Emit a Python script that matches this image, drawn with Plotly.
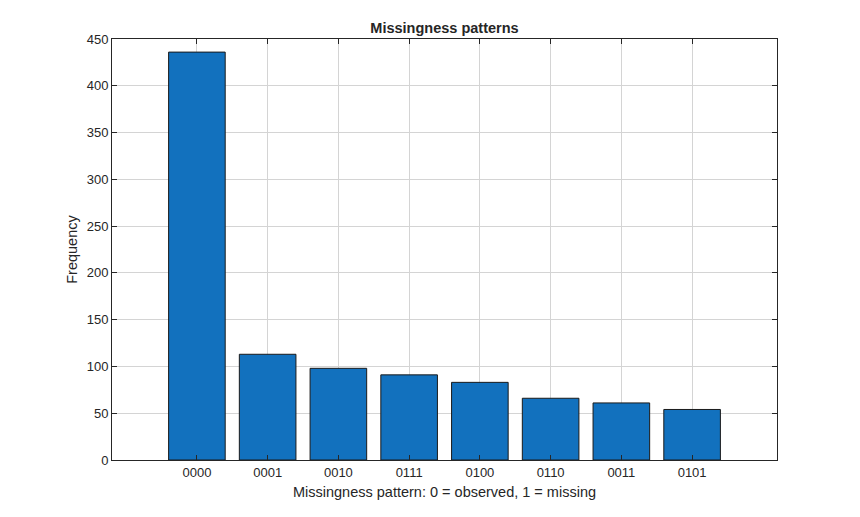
import plotly.graph_objects as go

# patterns and their counts
patterns = ["0000", "0001", "0010", "0111", "0100", "0110", "0011", "0101"]
counts = [436, 113, 98, 91, 83, 66, 61, 54]
y_ticks = [0, 50, 100, 150, 200, 250, 300, 350, 400, 450]

fig = go.Figure(
    go.Bar(
        x=patterns,
        y=counts,
        width=0.8,
        marker=dict(color="#1271BE", line=dict(color="#1a1a1a", width=1)),
    )
)

axis_common = dict(
    showline=True,
    linecolor="#262626",
    linewidth=1,
    mirror="ticks",
    ticks="inside",
    ticklen=5,
    tickcolor="#262626",
    showgrid=True,
    gridcolor="#d4d4d4",
    gridwidth=1,
    zeroline=False,
    tickfont=dict(size=13, color="#262626"),
)

fig.update_xaxes(
    axis_common,
    type="category",
    range=[-1.2, 8.2],
    title=dict(text="Missingness pattern: 0 = observed, 1 = missing",
               font=dict(size=14.5, color="#262626"), standoff=8),
)
fig.update_yaxes(
    axis_common,
    range=[0, 450],
    tickvals=y_ticks,
    title=dict(text="Frequency", font=dict(size=14.5, color="#262626"), standoff=5),
)

# page has an 8px body margin, so the margins are shifted to compensate
fig.update_layout(
    width=860,
    height=517,
    margin=dict(l=104, r=91, t=31, b=65),
    paper_bgcolor="white",
    plot_bgcolor="white",
    font=dict(family="Liberation Sans, Arial, sans-serif"),
    # title centred over the axes box, like matlab does
    title=dict(text="<b>Missingness patterns</b>", xref="paper", x=0.5, xanchor="center",
               y=0.961, yanchor="middle", font=dict(size=14.5, color="#262626")),
    showlegend=False,
)

fig.write_html("out.html")
